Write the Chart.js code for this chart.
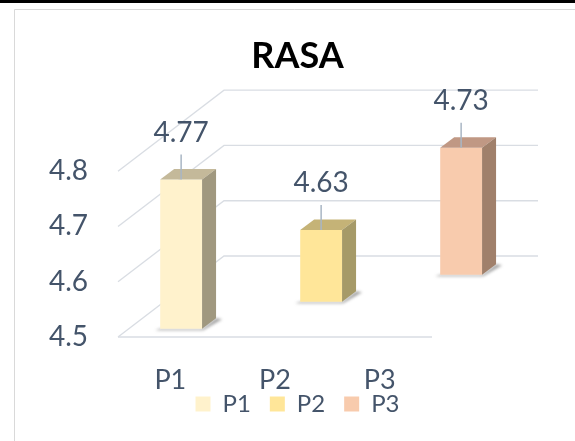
<!DOCTYPE html>
<html lang="en">
<head>
<meta charset="UTF-8" />
<title>RASA</title>
<script src="https://cdn.jsdelivr.net/npm/chart.js@4.4.1/dist/chart.umd.min.js"></script>
<style>
  html,body{margin:0;padding:0;background:#fff}
  #wrap{width:575px;height:441px}
</style>
</head>
<body>
<div id="wrap"><canvas id="chart" width="575" height="441"></canvas></div>
<script>
  const categories = ['P1', 'P2', 'P3'];
  const seriesNames = ['P1', 'P2', 'P3'];
  const values = [4.77, 4.63, 4.73];
  const yTicks = [4.5, 4.6, 4.7, 4.8];

  const frontColors = ['#FFF2CC', '#FFE699', '#F8CBAD'];
  const topColors = ['#C4B99A', '#C5B377', '#C09884'];
  const sideColors = ['#A0987F', '#A69A68', '#A0806B'];

  const TEXT = '#44546A';
  const GRID = '#D9DDE3';
  const FONT = 'Lato';
  // 3d look: depth of the wall box and of one bar
  const WALL_X = 106, WALL_Y = 81;
  const BAR_X = 14, BAR_Y = 10.5;
  const PAD_L = 40, PAD_R = 20;

  function shiftFor(i){
    const rowY = WALL_Y / seriesNames.length;
    const sy = (i + 0.5) * rowY - BAR_Y / 2;
    return {dx: sy * WALL_X / WALL_Y, dy: sy};
  }

  const datasets = seriesNames.map((name, i) => ({
    label: name,
    data: categories.map((c, j) => j === i ? values[i] : null),
    backgroundColor: frontColors[i],
    borderWidth: 0,
    base: yTicks[0],
    clip: false
  }));

  const framePlugin = {
    id: 'frame',
    beforeDraw(chart){
      const ctx = chart.ctx;
      ctx.save();
      ctx.fillStyle = '#fff';
      ctx.fillRect(0, 0, chart.width, chart.height);
      ctx.fillStyle = '#000';
      ctx.fillRect(0, 0, chart.width, 3);
      ctx.strokeStyle = '#D9D9D9';
      ctx.lineWidth = 1;
      ctx.beginPath();
      ctx.moveTo(14.5, chart.height);
      ctx.lineTo(14.5, 9.5);
      ctx.lineTo(chart.width, 9.5);
      ctx.stroke();
      ctx.restore();
    }
  };

  // walls and floor of the 3d box, from the y scale
  const wallPlugin = {
    id: 'walls',
    beforeDatasetsDraw(chart){
      const ctx = chart.ctx, ys = chart.scales.y, area = chart.chartArea;
      ctx.save();
      ctx.strokeStyle = GRID;
      ctx.lineWidth = 1.3;
      ys.ticks.forEach((t, k) => {
        const y = ys.getPixelForValue(t.value);
        ctx.beginPath();
        ctx.moveTo(area.left, y);
        ctx.lineTo(area.left + WALL_X, y - WALL_Y);
        ctx.lineTo(area.right + WALL_X, y - WALL_Y);
        ctx.stroke();
        if (k === 0){
          ctx.beginPath();
          ctx.moveTo(area.left, y);
          ctx.lineTo(area.right, y);
          ctx.stroke();
        }
      });
      ctx.restore();
    }
  };

  const barPlugin = {
    id: 'bars3d',
    beforeDatasetDraw(chart, args){
      const s = shiftFor(args.index);
      const ctx = chart.ctx;
      ctx.save();
      ctx.translate(s.dx, -s.dy);
      // soft shadow at the foot of the bar
      args.meta.data.forEach((el, j) => {
        if (j !== args.index) return;
        const x0 = el.x - el.width / 2, x1 = el.x + el.width / 2, b = el.base;
        ctx.save();
        ctx.filter = 'blur(1.5px)';
        ctx.fillStyle = 'rgba(70,70,70,0.5)';
        ctx.beginPath();
        ctx.moveTo(x0 - 5, b + 1.5);
        ctx.lineTo(x1 + 1, b + 1.5);
        ctx.lineTo(x1 + BAR_X + 6, b - BAR_Y + 1);
        ctx.lineTo(x1 + BAR_X, b - BAR_Y);
        ctx.lineTo(x1, b);
        ctx.lineTo(x0, b);
        ctx.closePath();
        ctx.fill();
        ctx.restore();
      });
    },
    afterDatasetDraw(chart, args){
      const ctx = chart.ctx, i = args.index;
      args.meta.data.forEach((el, j) => {
        if (j !== i) return;
        const x0 = el.x - el.width / 2, x1 = el.x + el.width / 2;
        const top = el.y, b = el.base;
        ctx.fillStyle = topColors[i];
        ctx.beginPath();
        ctx.moveTo(x0, top);
        ctx.lineTo(x1, top);
        ctx.lineTo(x1 + BAR_X, top - BAR_Y);
        ctx.lineTo(x0 + BAR_X, top - BAR_Y);
        ctx.closePath();
        ctx.fill();
        ctx.fillStyle = sideColors[i];
        ctx.beginPath();
        ctx.moveTo(x1, top);
        ctx.lineTo(x1 + BAR_X, top - BAR_Y);
        ctx.lineTo(x1 + BAR_X, b - BAR_Y);
        ctx.lineTo(x1, b);
        ctx.closePath();
        ctx.fill();
        // data label with leader line
        ctx.strokeStyle = '#A9B6C4';
        ctx.lineWidth = 1.5;
        ctx.beginPath();
        ctx.moveTo(el.x, top - 25);
        ctx.lineTo(el.x, top);
        ctx.stroke();
        ctx.fillStyle = TEXT;
        ctx.font = '28px ' + FONT;
        ctx.textAlign = 'center';
        ctx.textBaseline = 'middle';
        ctx.fillText(values[i].toFixed(2), el.x, top - 47);
      });
      ctx.restore();
    }
  };

  new Chart(document.getElementById('chart'), {
    type: 'bar',
    data: {labels: categories, datasets: datasets},
    options: {
      responsive: false,
      animation: false,
      layout: {padding: {left: PAD_L, right: PAD_R, top: 0, bottom: 15}},
      datasets: {bar: {grouped: false, categoryPercentage: 1, barPercentage: 0.4}},
      plugins: {
        tooltip: {enabled: false},
        title: {
          display: true, text: 'RASA', color: '#000',
          font: {family: FONT, size: 36, weight: 'bold'},
          padding: {top: 35, bottom: 93}
        },
        legend: {
          position: 'bottom',
          labels: {color: TEXT, font: {family: FONT, size: 24}, boxWidth: 15, boxHeight: 15, padding: 19}
        }
      },
      scales: {
        x: {
          grid: {display: false, drawTicks: false},
          border: {display: false},
          // mirror keeps the labels from being clipped to the short axis box
          ticks: {color: TEXT, font: {family: FONT, size: 27}, padding: -59, mirror: true},
          afterFit: s => { s.height = 36; }
        },
        y: {
          min: 4.5, max: 4.8,
          grid: {display: false, drawTicks: false},
          border: {display: false},
          afterBuildTicks: s => { s.ticks = yTicks.map(v => ({value: v})); },
          ticks: {color: TEXT, font: {family: FONT, size: 28}, padding: 30, callback: v => v.toFixed(1)},
          afterFit: s => { s.width = 118 - PAD_L; }
        },
        yR: {
          type: 'linear', position: 'right',
          grid: {display: false, drawTicks: false},
          border: {display: false},
          ticks: {display: false},
          afterFit: s => { s.width = 575 - PAD_R - 432; }
        }
      }
    },
    plugins: [framePlugin, wallPlugin, barPlugin]
  });
</script>
</body>
</html>
